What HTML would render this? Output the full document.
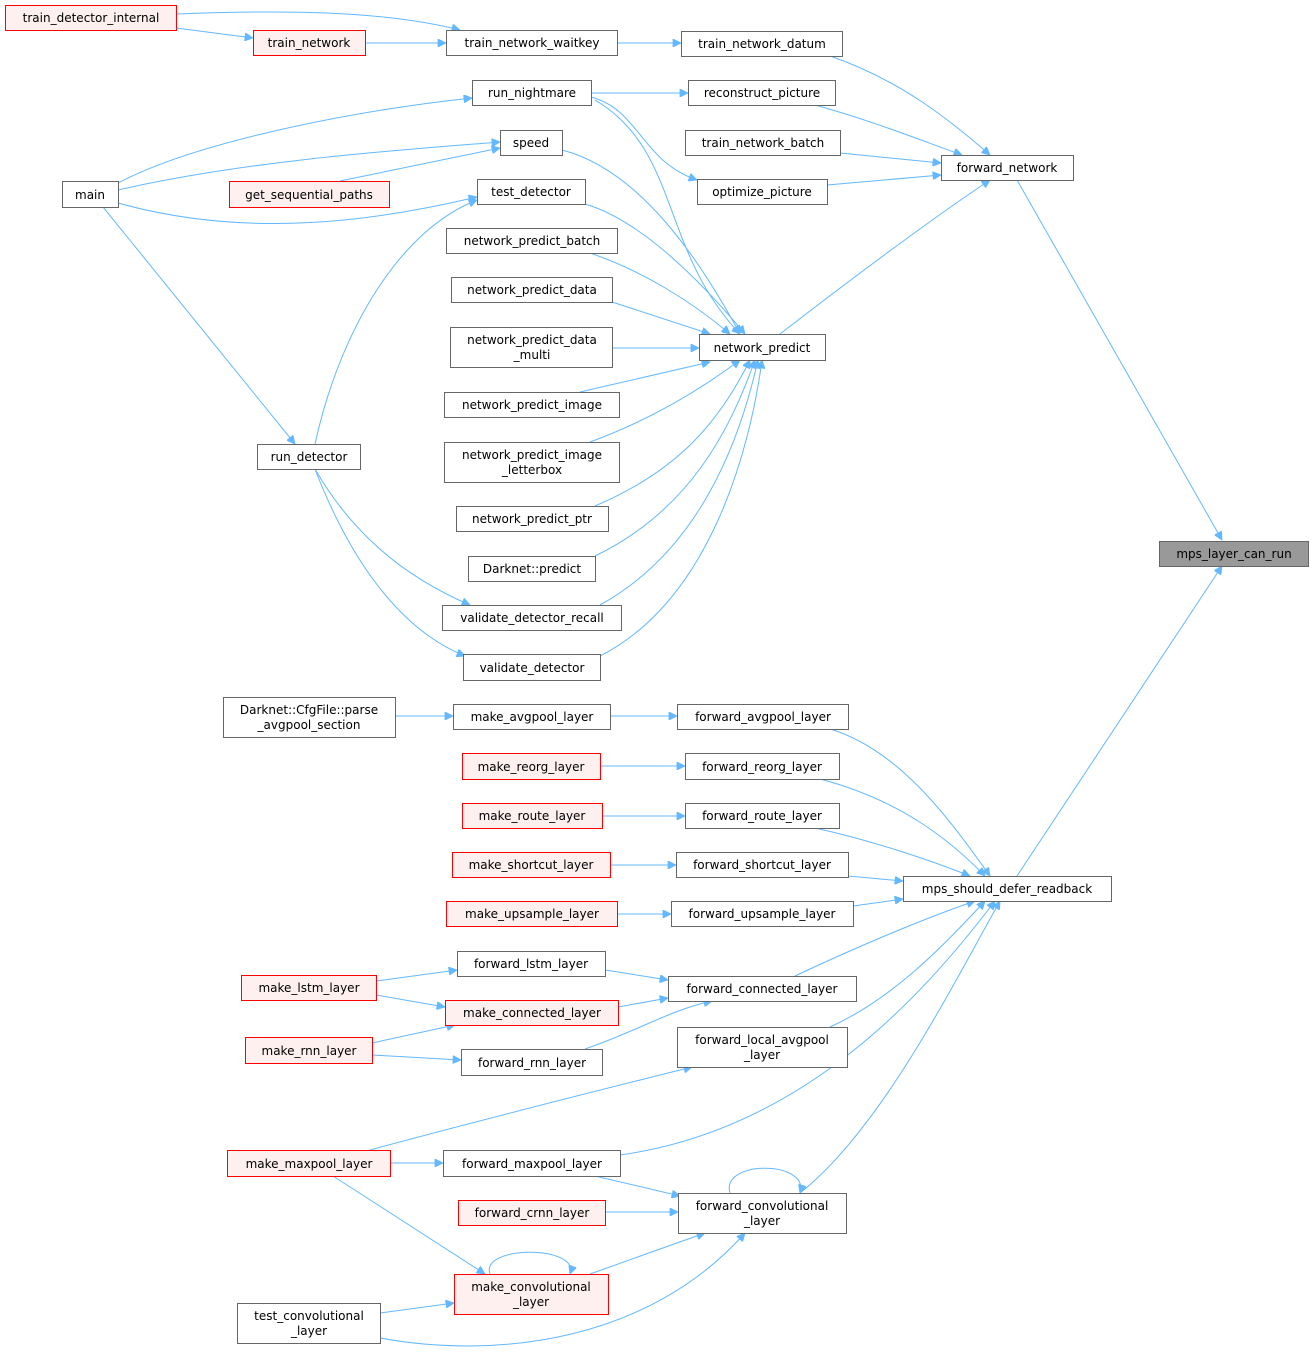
<!DOCTYPE html>
<html><head><meta charset="utf-8"><style>
html,body{margin:0;padding:0;background:#fff;}
svg text{font-family:"DejaVu Sans","Liberation Sans",sans-serif;font-size:12px;fill:#000;}
.n{fill:#fff;stroke:#666;stroke-width:1}
.r{fill:#fff0f0;stroke:#ff0000;stroke-width:1}
.g{fill:#999;stroke:#666;stroke-width:1}
.e{fill:none;stroke:#63b8ff;stroke-width:1}
</style></head><body>
<svg width="1313" height="1352" viewBox="0 0 1313 1352" xmlns="http://www.w3.org/2000/svg">
<defs><marker id="a" viewBox="0 0 10 10" refX="10" refY="5" markerWidth="10" markerHeight="8" markerUnits="userSpaceOnUse" orient="auto"><path d="M0,0 L10,5 L0,10 z" fill="#63b8ff" stroke="#63b8ff"/></marker></defs>
<g class="edges" marker-end="url(#a)">
<path class="e" marker-end="url(#a)" d="M176,14 C280,10 380,10 460,30"/>
<path class="e" marker-end="url(#a)" d="M176,28 L253,38"/>
<path class="e" marker-end="url(#a)" d="M365,43 L446,43"/>
<path class="e" marker-end="url(#a)" d="M617,43 L681,43"/>
<path class="e" marker-end="url(#a)" d="M830,56 C900,80 950,120 990,155"/>
<path class="e" marker-end="url(#a)" d="M591,93 L688,93"/>
<path class="e" marker-end="url(#a)" d="M815,105 C870,120 920,140 962,155"/>
<path class="e" marker-end="url(#a)" d="M840,153 L941,163"/>
<path class="e" marker-end="url(#a)" d="M827,185 L941,175"/>
<path class="e" marker-end="url(#a)" d="M780,334 C850,280 930,220 990,180"/>
<path class="e" marker-end="url(#a)" d="M1017,180 L1222,540"/>
<path class="e" marker-end="url(#a)" d="M1017,876 L1222,566"/>
<path class="e" marker-end="url(#a)" d="M591,97 C640,110 640,160 697,180"/>
<path class="e" marker-end="url(#a)" d="M595,100 C680,150 660,250 740,334"/>
<path class="e" marker-end="url(#a)" d="M118,183 C200,140 360,110 472,98"/>
<path class="e" marker-end="url(#a)" d="M118,190 C250,160 400,150 500,142"/>
<path class="e" marker-end="url(#a)" d="M340,181 L500,148"/>
<path class="e" marker-end="url(#a)" d="M118,203 C250,240 380,220 477,197"/>
<path class="e" marker-end="url(#a)" d="M103,207 L295,444"/>
<path class="e" marker-end="url(#a)" d="M315,444 C340,330 400,230 477,200"/>
<path class="e" marker-end="url(#a)" d="M315,469 C350,530 400,575 470,605"/>
<path class="e" marker-end="url(#a)" d="M315,469 C350,560 400,630 465,656"/>
<path class="e" marker-end="url(#a)" d="M562,150 C640,170 700,260 740,334"/>
<path class="e" marker-end="url(#a)" d="M585,204 C640,220 700,280 745,334"/>
<path class="e" marker-end="url(#a)" d="M590,253 C640,270 690,300 730,334"/>
<path class="e" marker-end="url(#a)" d="M612,302 L710,334"/>
<path class="e" marker-end="url(#a)" d="M612,348 L699,348"/>
<path class="e" marker-end="url(#a)" d="M580,392 L710,362"/>
<path class="e" marker-end="url(#a)" d="M590,442 C650,420 700,390 740,360"/>
<path class="e" marker-end="url(#a)" d="M595,506 C680,470 720,420 750,360"/>
<path class="e" marker-end="url(#a)" d="M595,556 C690,510 730,430 755,360"/>
<path class="e" marker-end="url(#a)" d="M600,605 C700,550 740,440 758,360"/>
<path class="e" marker-end="url(#a)" d="M600,656 C710,600 750,450 762,360"/>
<path class="e" marker-end="url(#a)" d="M395,716 L453,716"/>
<path class="e" marker-end="url(#a)" d="M610,716 L677,716"/>
<path class="e" marker-end="url(#a)" d="M830,729 C900,750 950,820 990,876"/>
<path class="e" marker-end="url(#a)" d="M600,766 L685,766"/>
<path class="e" marker-end="url(#a)" d="M820,779 C900,800 950,840 985,876"/>
<path class="e" marker-end="url(#a)" d="M602,816 L685,816"/>
<path class="e" marker-end="url(#a)" d="M815,828 C870,840 930,860 970,876"/>
<path class="e" marker-end="url(#a)" d="M610,865 L676,865"/>
<path class="e" marker-end="url(#a)" d="M848,876 L903,881"/>
<path class="e" marker-end="url(#a)" d="M617,914 L671,914"/>
<path class="e" marker-end="url(#a)" d="M853,906 L903,899"/>
<path class="e" marker-end="url(#a)" d="M376,981 L457,970"/>
<path class="e" marker-end="url(#a)" d="M376,995 L445,1007"/>
<path class="e" marker-end="url(#a)" d="M605,970 L668,980"/>
<path class="e" marker-end="url(#a)" d="M618,1007 L668,998"/>
<path class="e" marker-end="url(#a)" d="M372,1043 L455,1025"/>
<path class="e" marker-end="url(#a)" d="M372,1055 L461,1060"/>
<path class="e" marker-end="url(#a)" d="M585,1049 C640,1030 670,1010 712,1001"/>
<path class="e" marker-end="url(#a)" d="M795,976 C850,950 920,920 975,901"/>
<path class="e" marker-end="url(#a)" d="M830,1027 C890,1000 940,950 985,901"/>
<path class="e" marker-end="url(#a)" d="M370,1150 C480,1120 600,1090 692,1067"/>
<path class="e" marker-end="url(#a)" d="M390,1163 L443,1163"/>
<path class="e" marker-end="url(#a)" d="M620,1155 C800,1130 920,1000 995,901"/>
<path class="e" marker-end="url(#a)" d="M595,1176 L680,1196"/>
<path class="e" marker-end="url(#a)" d="M605,1212 L678,1212"/>
<path class="e" marker-end="url(#a)" d="M800,1193 C880,1130 950,990 1000,901"/>
<path class="e" marker-end="url(#a)" d="M730,1193 C720,1160 810,1160 800,1193"/>
<path class="e" marker-end="url(#a)" d="M333,1176 L485,1274"/>
<path class="e" marker-end="url(#a)" d="M490,1274 C480,1245 580,1245 570,1274"/>
<path class="e" marker-end="url(#a)" d="M590,1274 L705,1233"/>
<path class="e" marker-end="url(#a)" d="M380,1313 L454,1303"/>
<path class="e" marker-end="url(#a)" d="M380,1338 C500,1360 650,1340 745,1233"/>
</g>
<g text-anchor="middle">
<rect class="r" x="5.5" y="5.5" width="171" height="25"/><text x="91" y="22">train_detector_internal</text>
<rect class="r" x="253.5" y="30.5" width="112" height="25"/><text x="309" y="47">train_network</text>
<rect class="n" x="446.5" y="30.5" width="171" height="25"/><text x="532" y="47">train_network_waitkey</text>
<rect class="n" x="681.5" y="31.5" width="161" height="25"/><text x="762" y="48">train_network_datum</text>
<rect class="n" x="472.5" y="80.5" width="119" height="25"/><text x="532" y="97">run_nightmare</text>
<rect class="n" x="688.5" y="80.5" width="147" height="25"/><text x="762" y="97">reconstruct_picture</text>
<rect class="n" x="685.5" y="130.5" width="155" height="25"/><text x="763" y="147">train_network_batch</text>
<rect class="n" x="500.5" y="130.5" width="62" height="25"/><text x="531" y="147">speed</text>
<rect class="n" x="941.5" y="155.5" width="132" height="25"/><text x="1007" y="172">forward_network</text>
<rect class="n" x="62.5" y="181.5" width="56" height="26"/><text x="90" y="199">main</text>
<rect class="r" x="229.5" y="181.5" width="160" height="26"/><text x="309" y="199">get_sequential_paths</text>
<rect class="n" x="477.5" y="179.5" width="108" height="25"/><text x="531" y="196">test_detector</text>
<rect class="n" x="697.5" y="179.5" width="130" height="25"/><text x="762" y="196">optimize_picture</text>
<rect class="n" x="446.5" y="228.5" width="171" height="25"/><text x="532" y="245">network_predict_batch</text>
<rect class="n" x="451.5" y="277.5" width="161" height="25"/><text x="532" y="294">network_predict_data</text>
<rect class="n" x="450.5" y="327.5" width="162" height="40"/><text x="532" y="344">network_predict_data</text><text x="532" y="359">_multi</text>
<rect class="n" x="699.5" y="334.5" width="126" height="26"/><text x="762" y="352">network_predict</text>
<rect class="n" x="444.5" y="392.5" width="175" height="25"/><text x="532" y="409">network_predict_image</text>
<rect class="n" x="444.5" y="442.5" width="175" height="40"/><text x="532" y="459">network_predict_image</text><text x="532" y="474">_letterbox</text>
<rect class="n" x="257.5" y="444.5" width="103" height="25"/><text x="309" y="461">run_detector</text>
<rect class="n" x="456.5" y="506.5" width="152" height="25"/><text x="532" y="523">network_predict_ptr</text>
<rect class="n" x="468.5" y="556.5" width="127" height="25"/><text x="532" y="573">Darknet::predict</text>
<rect class="g" x="1159.5" y="541.5" width="149" height="25"/><text x="1234" y="558">mps_layer_can_run</text>
<rect class="n" x="442.5" y="605.5" width="179" height="25"/><text x="532" y="622">validate_detector_recall</text>
<rect class="n" x="463.5" y="654.5" width="137" height="26"/><text x="532" y="672">validate_detector</text>
<rect class="n" x="223.5" y="697.5" width="172" height="40"/><text x="309" y="714">Darknet::CfgFile::parse</text><text x="309" y="729">_avgpool_section</text>
<rect class="n" x="453.5" y="704.5" width="157" height="25"/><text x="532" y="721">make_avgpool_layer</text>
<rect class="n" x="677.5" y="704.5" width="171" height="25"/><text x="763" y="721">forward_avgpool_layer</text>
<rect class="r" x="462.5" y="753.5" width="138" height="26"/><text x="531" y="771">make_reorg_layer</text>
<rect class="n" x="685.5" y="753.5" width="154" height="26"/><text x="762" y="771">forward_reorg_layer</text>
<rect class="r" x="462.5" y="803.5" width="140" height="25"/><text x="532" y="820">make_route_layer</text>
<rect class="n" x="685.5" y="803.5" width="154" height="25"/><text x="762" y="820">forward_route_layer</text>
<rect class="r" x="452.5" y="852.5" width="158" height="25"/><text x="531" y="869">make_shortcut_layer</text>
<rect class="n" x="676.5" y="852.5" width="172" height="25"/><text x="762" y="869">forward_shortcut_layer</text>
<rect class="n" x="903.5" y="876.5" width="208" height="25"/><text x="1007" y="893">mps_should_defer_readback</text>
<rect class="r" x="446.5" y="901.5" width="171" height="25"/><text x="532" y="918">make_upsample_layer</text>
<rect class="n" x="671.5" y="901.5" width="182" height="25"/><text x="762" y="918">forward_upsample_layer</text>
<rect class="n" x="457.5" y="951.5" width="148" height="25"/><text x="531" y="968">forward_lstm_layer</text>
<rect class="r" x="241.5" y="975.5" width="135" height="25"/><text x="309" y="992">make_lstm_layer</text>
<rect class="n" x="668.5" y="976.5" width="188" height="25"/><text x="762" y="993">forward_connected_layer</text>
<rect class="r" x="445.5" y="1000.5" width="173" height="25"/><text x="532" y="1017">make_connected_layer</text>
<rect class="r" x="245.5" y="1037.5" width="127" height="26"/><text x="309" y="1055">make_rnn_layer</text>
<rect class="n" x="677.5" y="1027.5" width="170" height="40"/><text x="762" y="1044">forward_local_avgpool</text><text x="762" y="1059">_layer</text>
<rect class="n" x="461.5" y="1049.5" width="141" height="26"/><text x="532" y="1067">forward_rnn_layer</text>
<rect class="r" x="227.5" y="1150.5" width="163" height="26"/><text x="309" y="1168">make_maxpool_layer</text>
<rect class="n" x="443.5" y="1150.5" width="177" height="26"/><text x="532" y="1168">forward_maxpool_layer</text>
<rect class="r" x="458.5" y="1200.5" width="147" height="25"/><text x="532" y="1217">forward_crnn_layer</text>
<rect class="n" x="678.5" y="1193.5" width="168" height="40"/><text x="762" y="1210">forward_convolutional</text><text x="762" y="1225">_layer</text>
<rect class="r" x="454.5" y="1274.5" width="154" height="40"/><text x="531" y="1291">make_convolutional</text><text x="531" y="1306">_layer</text>
<rect class="n" x="237.5" y="1303.5" width="143" height="40"/><text x="309" y="1320">test_convolutional</text><text x="309" y="1335">_layer</text>
</g>
</svg>
</body></html>
